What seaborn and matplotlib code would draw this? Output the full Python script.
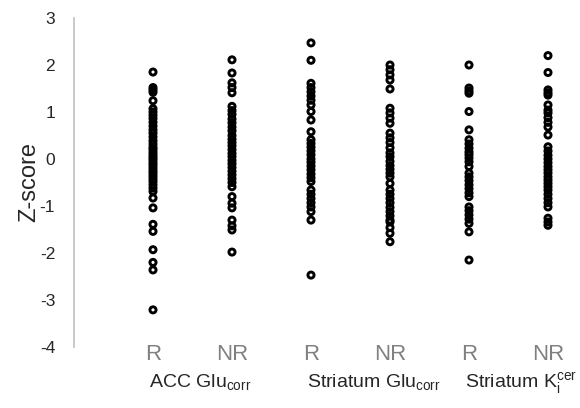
import pandas as pd
import matplotlib.pyplot as plt
import matplotlib.transforms as mtransforms
import seaborn as sns

# Valores (Z-score) por grupo
acc_r = [1.85, 1.52, 1.47, 1.42, 1.24, 1.07, 1.0, 0.93, 0.86, 0.78, 0.7, 0.62, 0.55, 0.47,
         0.39, 0.32, 0.25, 0.2, 0.14, 0.08, 0.03, -0.02, -0.08, -0.13, -0.19, -0.25, -0.3,
         -0.36, -0.42, -0.48, -0.55, -0.62, -0.69, -0.83, -1.04, -1.39, -1.54, -1.93, -2.2,
         -2.36, -3.21]
acc_nr = [2.11, 1.83, 1.62, 1.52, 1.41, 1.12, 1.03, 0.95, 0.85, 0.77, 0.68, 0.6, 0.5, 0.42,
          0.35, 0.28, 0.2, 0.12, 0.05, -0.03, -0.1, -0.18, -0.26, -0.34, -0.42, -0.5, -0.59,
          -0.8, -0.94, -1.04, -1.3, -1.42, -1.51, -1.98]
str_glu_r = [2.47, 2.10, 1.61, 1.52, 1.43, 1.34, 1.25, 1.15, 1.01, 0.83, 0.58, 0.41, 0.33,
             0.25, 0.17, 0.09, 0.0, -0.07, -0.15, -0.23, -0.32, -0.4, -0.48, -0.66, -0.75,
             -0.84, -0.93, -1.02, -1.12, -1.30, -2.47]
str_glu_nr = [2.0, 1.9, 1.79, 1.68, 1.49, 1.08, 0.98, 0.87, 0.76, 0.55, 0.45, 0.35, 0.24,
              0.13, 0.05, -0.05, -0.14, -0.22, -0.3, -0.38, -0.52, -0.66, -0.75, -0.84,
              -0.93, -1.03, -1.12, -1.21, -1.30, -1.34, -1.46, -1.58, -1.76]
str_ki_r = [2.0, 1.51, 1.45, 1.40, 1.01, 0.62, 0.41, 0.32, 0.23, 0.15, 0.09, 0.02, -0.06,
            -0.16, -0.30, -0.38, -0.46, -0.55, -0.63, -0.72, -0.80, -1.02, -1.1, -1.19,
            -1.28, -1.37, -1.55, -2.15]
str_ki_nr = [2.20, 1.84, 1.47, 1.41, 1.36, 1.15, 1.04, 0.98, 0.88, 0.78, 0.68, 0.51, 0.26,
             0.17, 0.08, 0.0, -0.08, -0.16, -0.23, -0.30, -0.38, -0.45, -0.52, -0.59, -0.66,
             -0.75, -0.84, -0.93, -1.02, -1.26, -1.34, -1.41]

grupos = ["ACC R", "ACC NR", "StrGlu R", "StrGlu NR", "StrKi R", "StrKi NR"]
rotulos_x = ["R", "NR", "R", "NR", "R", "NR"]
rotulos_grupo = ["ACC Glu$_{\\mathregular{corr}}$",
                 "Striatum Glu$_{\\mathregular{corr}}$",
                 "Striatum K$_{\\mathregular{i}}^{\\mathregular{cer}}$"]
y_ticks = [3, 2, 1, 0, -1, -2, -3, -4]

series = [acc_r, acc_nr, str_glu_r, str_glu_nr, str_ki_r, str_ki_nr]
df = pd.DataFrame({
    "grupo": [g for g, vals in zip(grupos, series) for _ in vals],
    "z": [v for vals in series for v in vals],
})

sns.set_theme(style="white")
plt.rcParams["font.family"] = ["Liberation Sans", "DejaVu Sans"]
plt.rcParams["mathtext.fontset"] = "custom"
plt.rcParams["mathtext.rm"] = "Liberation Sans"

fig = plt.figure(figsize=(5.8, 4.08), dpi=100)
ax = fig.add_axes([74 / 580, 1 - 347 / 408, 506 / 580, (347 - 18) / 408])

sns.stripplot(data=df, x="grupo", y="z", order=grupos, jitter=False, color="black",
              size=4.4, linewidth=2, ax=ax)
for coll in ax.collections:
    coll.set_facecolor("none")
    coll.set_edgecolor("black")
    coll.set_linewidth(2.1)

ax.set_xlim(-1, -1 + 506 / 79)
ax.set_ylim(-4, 3)
ax.set_yticks(y_ticks)
ax.set_yticklabels([str(t) for t in y_ticks], fontsize=12.5)
ax.set_xticks(range(len(grupos)))
ax.set_xticklabels(rotulos_x, fontsize=16, color="#808080")
ax.tick_params(axis="x", length=0, pad=-2)
ax.tick_params(axis="y", length=0, pad=13.5)
ax.set_xlabel("")
ax.set_ylabel("Z-score", fontsize=17, labelpad=0)

for s in ["top", "right", "bottom"]:
    ax.spines[s].set_visible(False)
ax.spines["left"].set_color("#bfbfbf")
ax.spines["left"].set_linewidth(1.2)

# rótulos dos grupos sob cada par R/NR
trans = mtransforms.blended_transform_factory(ax.transData, ax.transAxes)
for i, txt in enumerate(rotulos_grupo):
    ax.text(2 * i - 0.05, -0.11, txt, transform=trans, ha="left", va="center",
            fontsize=14, clip_on=False)

fig.savefig("out.png", dpi=100)
